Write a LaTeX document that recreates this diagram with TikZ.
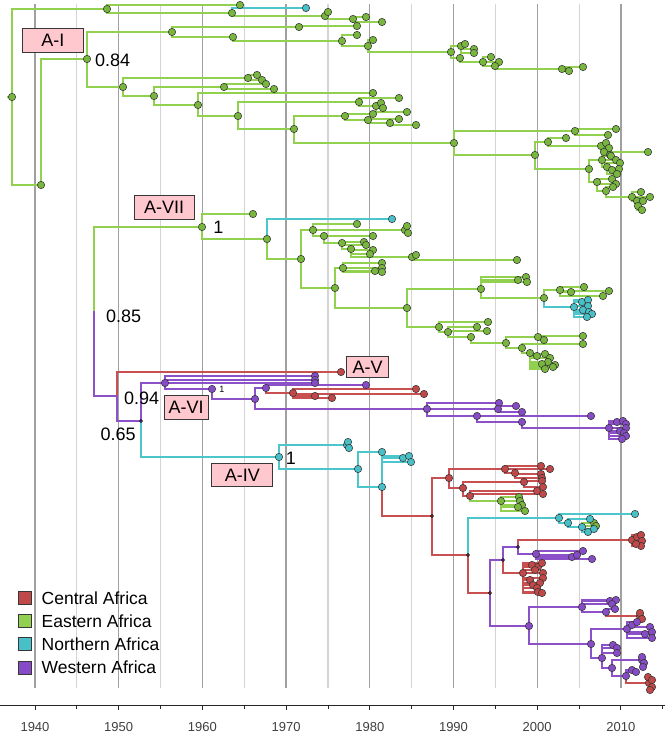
\documentclass[tikz,border=0pt]{standalone}
\usepackage{fontspec}
\setmainfont{Liberation Sans}
\definecolor{gL}{RGB}{146,208,80}
\definecolor{gF}{RGB}{120,182,62}
\definecolor{cL}{RGB}{75,198,204}
\definecolor{cF}{RGB}{72,192,200}
\definecolor{rL}{RGB}{200,80,80}
\definecolor{rF}{RGB}{192,72,72}
\definecolor{pL}{RGB}{140,80,200}
\definecolor{pF}{RGB}{135,75,200}
\definecolor{pinkbox}{RGB}{255,199,206}
\definecolor{dk}{RGB}{55,55,55}
\definecolor{gridA}{RGB}{160,160,160}
\definecolor{gridB}{RGB}{212,212,212}

\def\GL{12/97/107/9, 12/97/41/185, 107/9/240/5, 107/9/232/13, 232/13/325/16, 325/16/328/12, 325/16/353/19, 353/19/366/17, 353/19/382/22,
41/185/87/59, 87/59/172/32, 87/59/123/87,
172/32/299/27, 299/27/357/26, 172/32/233/37, 233/37/342/41, 342/41/357/35, 342/41/368/46, 368/46/373/40, 368/46/451/52,
451/52/461/46, 461/46/465/44, 461/46/474/49, 461/46/474/53, 451/52/460/58, 460/58/483/62, 483/62/491/57, 483/62/499/62, 483/62/495/66, 495/66/562/69, 562/69/569/71, 562/69/583/67,
123/87/248/78, 248/78/257/75, 248/78/262/80, 123/87/154/96, 154/96/224/87, 224/87/266/84, 224/87/274/89, 154/96/198/105, 198/105/373/93, 198/105/238/116, 238/116/359/102, 359/102/399/98, 359/102/376/106, 376/106/381/103, 376/106/383/108, 376/106/407/112, 238/116/294/129, 294/129/345/116, 345/116/373/114, 345/116/368/120, 368/120/399/119, 368/120/390/123, 390/123/416/125,
294/129/454/143, 454/143/575/131, 575/131/616/129, 575/131/608/135, 454/143/535/155, 535/155/548/142, 548/142/566/138, 548/142/601/146, 601/146/606/143, 601/146/609/148, 601/146/604/152, 604/152/648/152, 604/152/610/155,
535/155/589/169, 589/169/602/160, 602/160/611/156, 602/160/616/160, 602/160/620/163, 602/160/607/167, 607/167/612/170, 607/167/619/169, 607/167/617/174, 589/169/597/182, 597/182/612/179, 597/182/616/184, 597/182/606/191, 606/191/613/187, 606/191/632/197, 632/197/641/192, 632/197/650/197, 632/197/637/201, 637/201/643/201, 637/201/638/206, 637/201/642/210,
94/311/202/227, 202/227/253/214, 202/227/267/239, 267/239/301/259, 301/259/313/230, 313/230/357/224, 313/230/405/230, 405/230/407/226, 405/230/408/233, 313/230/324/236, 324/236/373/236, 324/236/342/243, 342/243/364/242, 342/243/366/245, 342/243/351/249, 351/249/373/250, 351/249/370/254, 351/249/412/257, 412/257/416/255, 412/257/517/260,
301/259/335/288, 335/288/343/268, 343/268/382/263, 343/268/382/268, 343/268/375/271, 343/268/382/272, 335/288/407/308, 407/308/481/289, 481/289/518/280, 481/289/526/277, 481/289/527/282, 481/289/544/298, 544/298/560/290, 560/290/571/292, 560/290/584/287, 560/290/609/291, 560/290/603/296,
407/308/439/327, 439/327/488/322, 439/327/448/332, 448/332/477/327, 448/332/487/331, 448/332/471/337, 471/337/506/343, 506/343/538/337, 538/337/583/336, 538/337/544/340, 506/343/522/348, 522/348/583/344, 522/348/530/353, 530/353/537/356, 530/353/545/354, 530/353/550/358, 530/353/548/362, 530/353/555/365, 530/353/542/364, 530/353/545/369, 530/353/553/367,
470/496/501/501, 501/501/519/497, 501/501/520/501, 501/501/522/505, 501/501/518/507, 501/501/525/511, 582/527/594/523, 582/527/596/526}

\def\CL{232/13/306/8, 267/239/392/219, 544/298/574/307, 574/307/582/302, 574/307/588/300, 574/307/588/306, 574/307/583/310, 574/307/589/312, 574/307/592/314, 574/307/587/317,
141/421/279/457, 279/457/347/445, 347/445/348/442, 347/445/349/448, 279/457/358/469, 358/469/382/452, 358/469/382/487, 382/487/403/458, 382/487/409/456, 382/487/411/462, 468/555/559/518, 559/518/635/514, 559/518/568/523, 568/523/590/519, 568/523/582/527, 582/527/588/532, 582/527/594/529}

\def\RL{117/396/341/372, 266/388/293/393, 293/393/416/389, 293/393/424/394, 293/393/315/396, 293/393/332/398,
432/516/449/478, 449/478/505/469, 505/469/541/466, 505/469/550/469, 505/469/515/473, 515/473/541/474, 515/473/542/478, 449/478/463/488, 463/488/524/482, 524/482/542/481, 524/482/543/487, 463/488/470/496, 470/496/537/491, 470/496/543/494,
518/547/632/540, 632/540/637/537, 632/540/641/535, 632/540/642/541, 632/540/641/546, 632/540/636/544,
503/560/523/573, 523/573/532/565, 523/573/538/567, 523/573/542/563, 523/573/535/570, 523/573/543/573, 523/573/543/578, 523/573/530/580, 523/573/540/583, 523/573/533/585, 523/573/537/588, 523/573/538/592, 523/573/542/593,
606/612/640/616, 640/616/640/613, 640/616/642/619, 626/676/649/683, 649/683/648/677, 649/683/652/680, 649/683/652/687, 649/683/650/690}

\def\PL{141/421/165/383, 165/383/315/376, 165/383/315/380, 165/383/315/383, 165/383/212/389, 212/389/255/399, 255/399/266/388, 266/388/366/385, 255/399/427/409, 427/409/499/403, 427/409/498/409, 498/409/516/406, 498/409/522/412, 427/409/477/416, 477/416/591/416, 477/416/522/422, 522/422/609/428, 609/428/617/422, 609/428/623/421, 609/428/626/424, 609/428/626/428, 609/428/620/431, 609/428/624/433, 609/428/626/436, 609/428/622/439,
518/547/536/554, 536/554/572/557, 536/554/577/555, 536/554/583/551, 536/554/592/559,
490/593/529/626, 529/626/582/607, 582/607/610/601, 582/607/616/600, 582/607/612/604, 582/607/606/612, 606/612/615/609,
529/626/591/644, 591/644/627/629, 627/629/632/625, 627/629/637/622, 627/629/650/627, 627/629/652/632, 627/629/645/634, 627/629/652/638, 591/644/602/658, 602/658/613/645, 602/658/617/648, 602/658/617/653, 602/658/612/668, 612/668/642/660, 642/660/642/657, 642/660/644/663, 642/660/643/667, 612/668/626/676, 626/676/632/670, 626/676/636/672}

\def\RLs{382/487/432/516, 432/516/468/555, 468/555/490/593}
\def\PLs{117/396/141/421, 490/593/503/560, 503/560/518/547}
\def\PLn{94/311/117/396}

\newcommand\brs[2]{\foreach \pa/\pb/\pc/\pd in #2 {\draw[#1] (\pa,\pb) |- (\pc,\pd);}}
\newcommand\dts[3]{\foreach \pa/\pb/\pc/\pd in #3 {\filldraw[#1] (\pc,\pd) circle[radius=#2];}}

\begin{document}
\begin{tikzpicture}[x=1pt,y=-1pt,
  br/.style={line width=1.8, line join=miter},
  dot/.style={draw=dk, line width=0.55},
  lab/.style={draw=dk, fill=pinkbox, line width=0.9, inner sep=0pt, font=\fontsize{18}{18}\selectfont},
  num/.style={inner sep=0pt, font=\fontsize{18}{18}\selectfont},
  leg/.style={draw=dk, line width=0.7, minimum width=13pt, minimum height=13pt, inner sep=0pt},
  legt/.style={anchor=west, inner sep=0pt, font=\fontsize{17.5}{18}\selectfont}]
\fill[white] (0,0) rectangle (665,734);
\useasboundingbox (0,0) rectangle (665,734);
% grid
\foreach \yr in {1945,1955,...,2005} \draw[gridB, line width=1.1] ({35+(\yr-1940)*8.37},4) -- ++(0,684);
\foreach \yr in {1940,1950,...,2010} \draw[gridA, line width=1.3] ({35+(\yr-1940)*8.37},4) -- ++(0,684);
% axis
\draw[black!85, line width=0.9] (0,705.5) -- (665,705.5);
\foreach \yr in {1940,1950,...,2010} {
  \draw[black!85, line width=0.9] ({35+(\yr-1940)*8.37},705.5) -- ++(0,4.5);
  \node[font=\fontsize{13}{13}\selectfont, text=black!75] (yr\yr) at ({35+(\yr-1940)*8.37},727) {\yr};}
\foreach \yr in {1945,1955,...,2015} \draw[black!85, line width=0.9] ({35+(\yr-1940)*8.37},705.5) -- ++(0,3);
% branches
\draw[gL, br] (7,97) -- (12,97);
\brs{gL,br}{\GL}
\brs{cL,br}{\CL}
\brs{rL,br}{\RL}
\brs{rL,br}{\RLs}
\brs{pL,br}{\PL}
\brs{pL,br}{\PLs}
\brs{pL,br}{\PLn}
% nodes
\filldraw[dot, fill=gF] (12,97) circle[radius=3.7];
\dts{dot,fill=gF}{3.7}{\GL}
\dts{dot,fill=cF}{3.7}{\CL}
\dts{dot,fill=rF}{3.7}{\RL}
\dts{dot,fill=pF}{3.7}{\PL}
\dts{fill=rL!60!black}{1.6}{\RLs}
\dts{fill=pL!60!black}{1.6}{\PLs}
% clade labels
\node[lab, minimum width=61pt, minimum height=24pt] (AI) at (52.8,40.3) {A-I};
\node[lab, minimum width=60pt, minimum height=24pt] (AVII) at (164.2,207.2) {A-VII};
\node[lab, minimum width=42pt, minimum height=21pt] (AV) at (367.5,367) {A-V};
\node[lab, minimum width=44pt, minimum height=24pt] (AVI) at (186.2,407) {A-VI};
\node[lab, minimum width=61pt, minimum height=23pt] (AIV) at (242.3,475) {A-IV};
% support values
\node[num, anchor=west] (s1) at (95,60) {0.84};
\node[num] (s2) at (218.5,227.5) {1};
\node[num, anchor=west] (s3) at (106,316) {0.85};
\node[num, anchor=west] (s4) at (124,398) {0.94};
\node[num, anchor=west] (s5) at (100.5,434) {0.65};
\node[inner sep=0pt, font=\fontsize{9}{9}\selectfont] (s6) at (222,389) {1};
\node[num] (s7) at (291,458) {1};
% legend
\node[leg, fill=rF] (l1) at (25.3,598) {};
\node[leg, fill=gL] (l2) at (25.3,621) {};
\node[leg, fill=cF] (l3) at (25.3,644) {};
\node[leg, fill=pF] (l4) at (25.3,667.5) {};
\node[legt] (t1) at (41.5,598) {Central Africa};
\node[legt] (t2) at (41.5,621) {Eastern Africa};
\node[legt] (t3) at (41.5,644) {Northern Africa};
\node[legt] (t4) at (41.5,667.5) {Western Africa};
\end{tikzpicture}
\end{document}
